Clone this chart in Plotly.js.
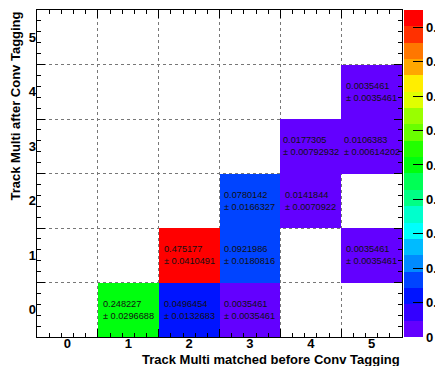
<!DOCTYPE html>
<html>
<head>
<meta charset="utf-8">
<script src="https://cdn.plot.ly/plotly-3.0.1.min.js"></script>
<style>html,body{margin:0;padding:0;background:#fff;}#chart{width:435px;height:366px;}</style>
</head>
<body>
<div id="chart"></div>
<script>
// Bin categories (both axes)
var xCats = [0, 1, 2, 3, 4, 5];
var yCats = [0, 1, 2, 3, 4, 5];
var xTickText = ['0', '1', '2', '3', '4', '5'];
var yTickText = ['0', '1', '2', '3', '4', '5'];

// Filled cells
var cellX   = [1, 2, 3, 2, 3, 5, 3, 4, 4, 5, 5];
var cellY   = [0, 0, 0, 1, 1, 1, 2, 2, 3, 3, 4];
var cellVal = [0.248227, 0.0496454, 0.0035461, 0.475177, 0.0921986, 0.0035461, 0.0780142, 0.0141844, 0.0177305, 0.0106383, 0.0035461];
var cellErr = [0.0296688, 0.0132683, 0.0035461, 0.0410491, 0.0180816, 0.0035461, 0.0166327, 0.0070922, 0.00792932, 0.00614202, 0.0035461];

// Colour bar ticks
var cbTicks = [0, 0.05, 0.1, 0.15, 0.2, 0.25, 0.3, 0.35, 0.4, 0.45];

// ROOT pretty palette, 20 contour bands
var paletteColors = ['rgb(99,0,255)','rgb(51,0,255)','rgb(0,20,255)','rgb(0,68,255)','rgb(0,139,255)',
  'rgb(0,187,255)','rgb(0,255,252)','rgb(0,255,204)','rgb(0,255,133)','rgb(0,255,85)',
  'rgb(0,255,14)','rgb(34,255,0)','rgb(105,255,0)','rgb(153,255,0)','rgb(224,255,0)',
  'rgb(255,238,0)','rgb(255,167,0)','rgb(255,119,0)','rgb(255,48,0)','rgb(255,0,0)'];

var colorscale = [];
paletteColors.forEach(function (c, j) {
  colorscale.push([j / paletteColors.length, c]);
  colorscale.push([(j + 1) / paletteColors.length, c]);
});

var z = yCats.map(function () { return xCats.map(function () { return null; }); });
for (var i = 0; i < cellVal.length; i++) {
  z[yCats.indexOf(cellY[i])][xCats.indexOf(cellX[i])] = cellVal[i];
}
var zmax = Math.max.apply(null, cellVal);

var FONT = 'Liberation Sans, Arial, Helvetica, sans-serif';

var heat = {
  type: 'heatmap',
  x: xCats, y: yCats, z: z,
  zmin: 0, zmax: zmax,
  colorscale: colorscale,
  hoverongaps: false,
  colorbar: {
    x: 1.0055, xanchor: 'left', xpad: 0,
    y: 0.5, yanchor: 'middle', ypad: 0,
    len: 1, lenmode: 'fraction',
    thickness: 19,
    outlinewidth: 0,
    automargin: false,
    tickmode: 'array', tickvals: cbTicks,
    ticks: 'inside', ticklen: 10, tickcolor: '#000', tickwidth: 1,
    tickfont: {family: FONT, size: 13, color: '#000', weight: 'bold'}
  }
};

var dummy = {type: 'scatter', x: [], y: [], xaxis: 'x2', yaxis: 'y2', showlegend: false, hoverinfo: 'skip'};

var annotations = [];
for (var k = 0; k < cellVal.length; k++) {
  annotations.push({
    x: cellX[k], y: cellY[k], xref: 'x', yref: 'y',
    text: String(cellVal[k]) + '<br>± ' + String(cellErr[k]),
    showarrow: false, align: 'left',
    font: {family: FONT, size: 9.2, color: '#111'}
  });
}
annotations.push({
  xref: 'paper', yref: 'paper', x: 1, y: 0, xanchor: 'right', yanchor: 'top', yshift: -13,
  text: 'Track Multi matched before Conv Tagging', showarrow: false,
  font: {family: FONT, size: 13, color: '#000', weight: 'bold'}
});
annotations.push({
  xref: 'paper', yref: 'paper', x: 0, y: 1, xanchor: 'center', yanchor: 'top', xshift: -22,
  textangle: -90,
  text: 'Track Multi after Conv Tagging', showarrow: false,
  font: {family: FONT, size: 13, color: '#000', weight: 'bold'}
});

var gridAxis = {
  range: [-0.5, 5.5], autorange: false,
  tickmode: 'linear', tick0: -0.5, dtick: 1,
  ticks: 'inside', ticklen: 8, tickcolor: '#000', tickwidth: 1,
  showticklabels: false,
  showgrid: true, gridcolor: '#777', griddash: 'dot', gridwidth: 1,
  zeroline: false,
  showline: true, linecolor: '#000', linewidth: 1, mirror: 'allticks',
  minor: {tick0: -0.5, dtick: 0.2, ticks: 'inside', ticklen: 4, tickcolor: '#000', showgrid: false},
  automargin: false,
  fixedrange: true
};

var layout = {
  width: 435, height: 366,
  margin: {l: 37, r: 33, t: 10, b: 29, pad: 0, autoexpand: false},
  paper_bgcolor: '#fff', plot_bgcolor: '#fff',
  showlegend: false,
  xaxis: Object.assign({}, gridAxis),
  yaxis: Object.assign({}, gridAxis),
  xaxis2: {
    overlaying: 'x', anchor: 'y2', side: 'bottom',
    range: [-0.5, 5.5], autorange: false,
    tickmode: 'array', tickvals: xCats, ticktext: xTickText,
    ticks: '', showgrid: false, zeroline: false, showline: false, automargin: false,
    ticklabelstandoff: -3,
    tickfont: {family: FONT, size: 13, color: '#000', weight: 'bold'}
  },
  yaxis2: {
    overlaying: 'y', anchor: 'x2', side: 'left',
    range: [-0.5, 5.5], autorange: false,
    tickmode: 'array', tickvals: yCats, ticktext: yTickText,
    ticks: '', showgrid: false, zeroline: false, showline: false, automargin: false,
    tickfont: {family: FONT, size: 13, color: '#000', weight: 'bold'}
  },
  annotations: annotations
};

Plotly.newPlot('chart', [heat, dummy], layout, {displayModeBar: false, staticPlot: true});
</script>
</body>
</html>
